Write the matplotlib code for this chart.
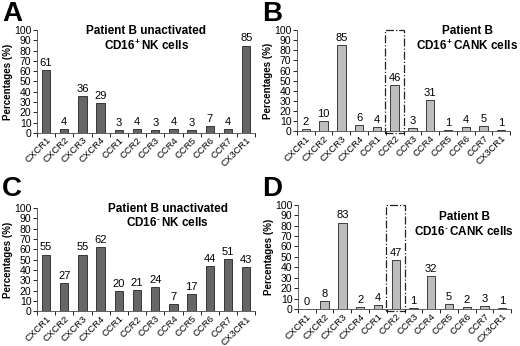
import matplotlib.pyplot as plt
from matplotlib.patches import Rectangle
import numpy as np

plt.rcParams['font.family'] = ['Liberation Sans', 'DejaVu Sans']
plt.rcParams['mathtext.fontset'] = 'custom'
plt.rcParams['mathtext.rm'] = 'Liberation Sans:bold'
plt.rcParams['mathtext.bf'] = 'Liberation Sans:bold'

receptors = ["CXCR1", "CXCR2", "CXCR3", "CXCR4", "CCR1", "CCR2", "CCR3",
             "CCR4", "CCR5", "CCR6", "CCR7", "CX3CR1"]
vals_a = [61, 4, 36, 29, 3, 4, 3, 4, 3, 7, 4, 85]
vals_b = [2, 10, 85, 6, 4, 46, 3, 31, 1, 4, 5, 1]
vals_c = [55, 27, 55, 62, 20, 21, 24, 7, 17, 44, 51, 43]
vals_d = [0, 8, 83, 2, 4, 47, 1, 32, 5, 2, 3, 1]

titles = [r"Patient B unactivated" "\n" r"CD16$^{+}\,$NK cells",
          r"Patient B" "\n" r"CD16$^{+}\,$CANK cells",
          r"Patient B unactivated" "\n" r"CD16$^{\text{-}}\,$NK cells",
          r"Patient B" "\n" r"CD16$^{\text{-}}\,$CANK cells"]
letters = ["A", "B", "C", "D"]

W, H = 520, 346
fig = plt.figure(figsize=(5.2, 3.46), dpi=100)

panels = [
    # rect, values, color, title pos, box, letter pos (px)
    ([0.071, 0.616, 0.42, 0.297], vals_a, "#666666", (0.5, 1.05), False, (2, 1)),
    ([0.571, 0.621, 0.41, 0.292], vals_b, "#bdbdbd", (0.80, 1.05), True, (262, 1)),
    ([0.071, 0.100, 0.42, 0.299], vals_c, "#666666", (0.6, 1.05), False, (2, 176)),
    ([0.573, 0.107, 0.41, 0.301], vals_d, "#bdbdbd", (0.78, 0.94), True, (262, 176)),
]

x = np.arange(len(receptors))
for i, (rect, vals, color, tpos, box, lpos) in enumerate(panels):
    ax = fig.add_axes(rect)
    ax.bar(x, vals, width=0.47, color=color, edgecolor="#222222", linewidth=0.6)
    for xi, v in zip(x, vals):
        ax.text(xi, v + 2, str(v), ha="center", va="bottom", fontsize=8)
    ax.set_ylim(0, 100)
    ax.set_xlim(-0.5, len(receptors) - 0.5)
    ax.set_yticks(range(0, 101, 10))
    ax.tick_params(axis="y", labelsize=7.5, length=3, width=0.6, pad=1)
    ax.set_xticks(x)
    ax.set_xticklabels(receptors, rotation=45, ha="right", rotation_mode="anchor",
                       fontsize=6.8)
    ax.tick_params(axis="x", length=0, pad=2)
    ax.set_xticks(np.arange(-0.5, len(receptors), 1), minor=True)
    ax.tick_params(axis="x", which="minor", length=3, width=0.6)
    for s in ["top", "right"]:
        ax.spines[s].set_visible(False)
    for s in ["left", "bottom"]:
        ax.spines[s].set_linewidth(0.6)
        ax.spines[s].set_color("#444444")
    ax.set_ylabel("Percentages (%)", fontsize=7, fontweight="bold", labelpad=1)
    ax.text(tpos[0], tpos[1], titles[i], transform=ax.transAxes, ha="center",
            va="top", fontsize=8.5, fontweight="bold", linespacing=1.15)
    fig.text(lpos[0] / W, 1 - lpos[1] / H, letters[i],
             fontsize=20, fontweight="bold", va="top", ha="left")
    if box:
        ax.add_patch(Rectangle((4.45, -2), 1.1, 102, fill=False, linestyle="-.",
                               linewidth=0.9, edgecolor="#222222", clip_on=False))

fig.savefig("out.png", dpi=100)
